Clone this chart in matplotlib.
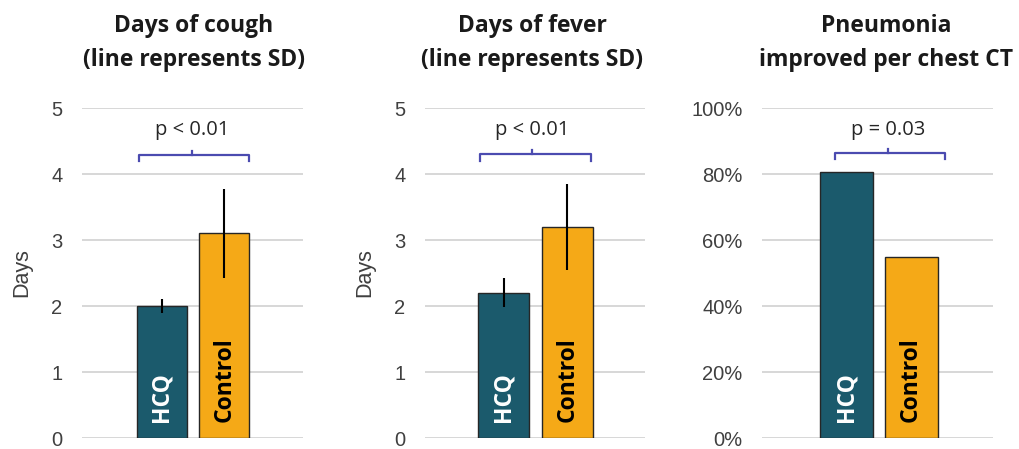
import matplotlib
matplotlib.use("Agg")
import matplotlib.pyplot as plt
from matplotlib.ticker import PercentFormatter

# ---- data ----
groups = ["HCQ", "Control"]
cough_days = [2.0, 3.1]
cough_sd = [0.1, 0.68]
fever_days = [2.2, 3.2]
fever_sd = [0.22, 0.65]
pneumonia_improved = [0.806, 0.548]
titles = ["Days of cough\n(line represents SD)",
          "Days of fever\n(line represents SD)",
          "Pneumonia\nimproved per chest CT"]
p_labels = ["p < 0.01", "p < 0.01", "p = 0.03"]
days_ticks = [0, 1, 2, 3, 4, 5]
pct_ticks = [0, 0.2, 0.4, 0.6, 0.8, 1.0]

# ---- style ----
bar_colors = ["#1b5a6c", "#f5a917"]
label_colors = ["white", "black"]
grid_color = "#d4d4d4"
bracket_color = "#4b4bb0"
title_font = "Open Sans"
tick_font = "Liberation Sans"

W, H = 1020, 449
fig = plt.figure(figsize=(W / 100, H / 100), dpi=100)
fig.patch.set_facecolor("white")

def px_axes(x0, x1, ytop, ybot):
    return fig.add_axes([x0 / W, 1 - ybot / H, (x1 - x0) / W, (ybot - ytop) / H])

axes = [px_axes(82, 303, 108, 438), px_axes(425, 645, 108, 438), px_axes(762, 993, 108, 438)]
xlims = [(-1.28, 2.26), (-1.24, 2.22), (-1.31, 2.27)]
widths = [0.8, 0.8, 0.82]
values = [cough_days, fever_days, pneumonia_improved]
errors = [cough_sd, fever_sd, None]
ymaxes = [5, 5, 1.0]
tick_sets = [days_ticks, days_ticks, pct_ticks]
bracket = [(-0.37, 1.39, 0.48, 4.29, 4.67), (-0.37, 1.37, 0.45, 4.30, 4.67),
           (-0.18, 1.53, 0.64, 0.864, 0.933)]
title_x = [194, 532, 886]

x = [0, 1]
for i, ax in enumerate(axes):
    ax.set_xlim(*xlims[i])
    ax.set_ylim(0, ymaxes[i])
    ax.set_yticks(tick_sets[i])
    ax.yaxis.grid(True, color=grid_color, linewidth=1.3)
    ax.set_axisbelow(True)
    for s in ax.spines.values():
        s.set_visible(False)
    ax.tick_params(axis="y", length=0, pad=14, labelsize=14.5, labelcolor="#404040")
    ax.set_xticks([])
    ax.bar(x, values[i], width=widths[i], color=bar_colors, edgecolor="#262626",
           linewidth=1.0, zorder=2)
    if errors[i] is not None:
        ax.errorbar(x, values[i], yerr=errors[i], fmt="none", ecolor="black",
                    elinewidth=1.5, capsize=0, zorder=3)
        ax.set_ylabel("Days", fontsize=15.5, fontfamily=tick_font, color="#404040", labelpad=14)
    else:
        ax.yaxis.set_major_formatter(PercentFormatter(1.0, decimals=0))
    for lab in ax.get_yticklabels():
        lab.set_fontfamily(tick_font)
    # bar labels
    ymax = ymaxes[i]
    for j, g in enumerate(groups):
        ax.text(x[j], 0.05 * ymax, g, rotation=90, ha="center", va="bottom",
                fontsize=16.5, fontweight="bold", fontfamily=title_font,
                color=label_colors[j], zorder=4)
    # significance bracket
    bl, br, bm, by, ty = bracket[i]
    d = 0.02 * ymax
    ax.plot([bl, bl, br, br], [by - d, by, by, by - d], color=bracket_color,
            linewidth=1.6, zorder=3, clip_on=False)
    ax.plot([bm, bm], [by, by + 0.012 * ymax], color=bracket_color, linewidth=1.6,
            zorder=3, clip_on=False)
    ax.text(bm, ty, p_labels[i], ha="center", va="center", fontsize=14.5,
            fontfamily=title_font, color="#262626")
    fig.text(title_x[i] / W, 1 - 43 / H, titles[i], ha="center", va="center",
             fontsize=16.5, fontweight="bold", fontfamily=title_font,
             color="#1a1a1a", linespacing=1.5)

fig.savefig("out.png", dpi=100, facecolor="white")
